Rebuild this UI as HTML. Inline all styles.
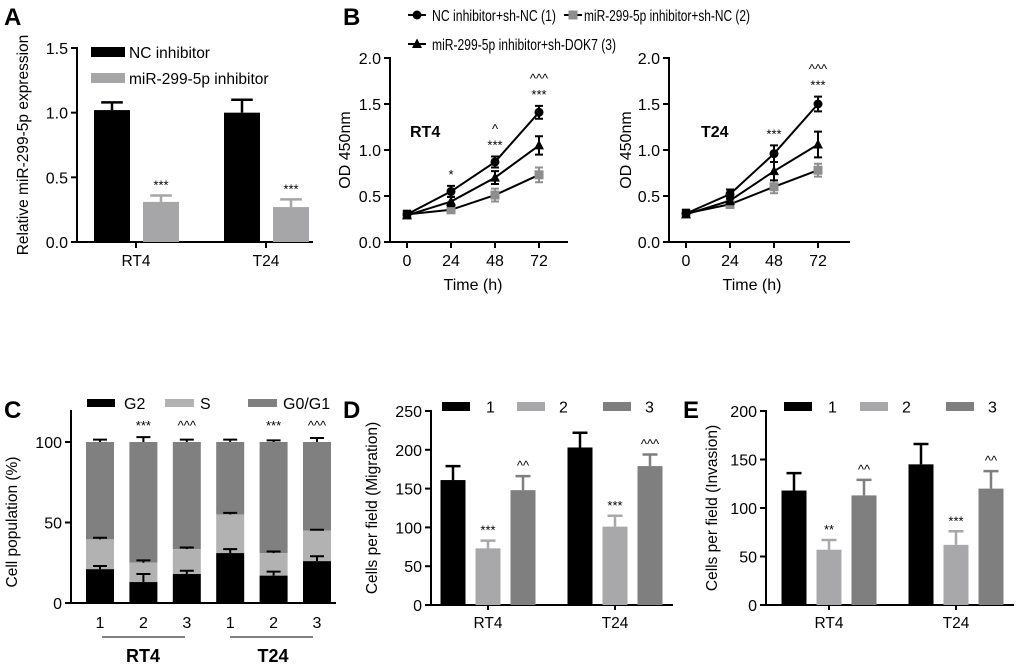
<!DOCTYPE html>
<html><head><meta charset="utf-8"><style>
html,body{margin:0;padding:0;background:#fff;}
svg{display:block;font-family:"Liberation Sans",Arial,sans-serif;}
</style></head><body>
<svg id="fig" width="1020" height="668" viewBox="0 0 1020 668"></svg>
<script>
// ---------- DATA ----------
const aCats = ["RT4","T24"];
const aNC = [1.02, 1.00];
const aNCerr = [0.06, 0.10];
const aInh = [0.31, 0.27];
const aInhErr = [0.05, 0.06];
const aSig = ["***","***"];

const bTimes = [0,24,48,72];
const bRT4s1 = [0.30,0.55,0.87,1.41];
const bRT4e1 = [0.04,0.06,0.06,0.07];
const bRT4s2 = [0.30,0.35,0.51,0.73];
const bRT4e2 = [0.04,0.03,0.07,0.08];
const bRT4s3 = [0.29,0.44,0.70,1.05];
const bRT4e3 = [0.03,0.05,0.07,0.10];
const bRT4star = ["","*","***","***"];
const bRT4caret = ["","","^","^^^"];
const bT24s1 = [0.31,0.52,0.96,1.50];
const bT24e1 = [0.04,0.05,0.09,0.08];
const bT24s2 = [0.31,0.41,0.60,0.78];
const bT24e2 = [0.04,0.04,0.07,0.07];
const bT24s3 = [0.30,0.45,0.77,1.06];
const bT24e3 = [0.03,0.04,0.10,0.14];
const bT24star = ["","","***","***"];
const bT24caret = ["","","","^^^"];

const cCats = ["1","2","3","1","2","3"];
const cG2 = [21,13,18,31,17,26];
const cG2err = [2,5,2,2.5,2.5,3];
const cS = [39.5,25,33.5,55,31,45];
const cSerr = [1,1.5,1,1,1,0.5];
const cTotal = [100,100,100,100,100,100];
const cTotErr = [1.5,3,1.5,1.5,1,2.5];
const cSig = ["","***","^^^","","***","^^^"];

const dCats = ["RT4","T24"];
const d1 = [161,203]; const d1e = [18,19];
const d2 = [73,101];  const d2e = [10,14];
const d3 = [148,179]; const d3e = [18,15];
const d2sig = ["***","***"]; const d3sig = ["^^","^^^"];

const eCats = ["RT4","T24"];
const e1 = [118,145]; const e1e = [18,21];
const e2 = [57,62];   const e2e = [10,14];
const e3 = [113,120]; const e3e = [16,18];
const e2sig = ["**","***"]; const e3sig = ["^^","^^"];

// ---------- HELPERS ----------
const NS = "http://www.w3.org/2000/svg";
const svg = document.getElementById('fig');
function mk(tag, attrs, parent){
  const e = document.createElementNS(NS, tag);
  for (const k in attrs) e.setAttribute(k, attrs[k]);
  (parent || svg).appendChild(e);
  return e;
}
function tx(x, y, s, size, anchor, parent, weight){
  const t = mk('text', {x:x, y:y, 'font-size':size, 'text-anchor':anchor||'middle', fill:'#000', 'font-weight':weight||'normal'}, parent);
  t.textContent = s;
  return t;
}
function lin(y0, y1, vmax){ return v => y0 - v / vmax * (y0 - y1); }
function group(name){
  const g = mk('g', {});
  
  
  return g;
}
function yAxis(g, x, ys, ticks, labels, top, fs){
  const l = mk('line', {x1:x, y1:ys(0)+1, x2:x, y2:top, stroke:'#000', 'stroke-width':2}, g);
  
  
  ticks.forEach((v,i) => {
    const tk = mk('line', {x1:x-6, y1:ys(v), x2:x, y2:ys(v), stroke:'#000', 'stroke-width':2}, g);
    
    
    const t = tx(x-9, ys(v)+6, labels[i], fs, 'end', g);
    
    
  });
}
function xAxis(g, x0, x1, y){
  const l = mk('line', {x1:x0-1, y1:y, x2:x1, y2:y, stroke:'#000', 'stroke-width':2}, g);
  
  
}
function yTitle(g, x, y, s, fs){
  const t = tx(0, 0, s, fs, 'middle', g);
  t.setAttribute('transform', 'translate(' + x + ',' + y + ') rotate(-90)');
  
  
}
function panelLabel(x, y, s){
  const t = tx(x, y, s, 24, 'start', svg, 'bold');
  
  
}
function bar(g, x, w, ys, v, err, fill, name){
  const r = mk('rect', {x:x, y:ys(v), width:w, height:ys(0)-ys(v), fill:fill}, g);
  
  
  const cx = x + w/2, top = ys(v+err);
  const e = mk('path', {d:'M'+cx+' '+ys(v)+'V'+top+'M'+(cx-w*0.3)+' '+top+'H'+(cx+w*0.3), stroke:fill==='#000'?'#000':fill, 'stroke-width':2.5, fill:'none'}, g);
  
  
  return top;
}
function sig(g, x, y, s, name){
  if (!s) return;
  const t = tx(x, y, s, 13, 'middle', g);
  
  
}
function legRect(g, x, y, w, h, fill, label, lx, fs, name){
  const r = mk('rect', {x:x, y:y, width:w, height:h, fill:fill}, g);
  
  
  const t = tx(lx, y+h/2+6, label, fs, 'start', g);
  
  
}

// ---------- PANEL A ----------
panelLabel(4, 25, 'A');
(function(){
  const g = group('panel-a-chart');
  const ys = lin(242, 48, 1.5);
  yAxis(g, 77, ys, [0,0.5,1,1.5], ['0.0','0.5','1.0','1.5'], 47, 16);
  xAxis(g, 77, 313, 242);
  yTitle(g, 28, 145, 'Relative miR-299-5p expression', 15.5);
  const centers = [136, 266];
  aCats.forEach((c,i) => {
    const cx = centers[i];
    bar(g, cx-42, 36, ys, aNC[i], aNCerr[i], '#000', 'bar-nc-' + c.toLowerCase());
    const top = bar(g, cx+7, 36, ys, aInh[i], aInhErr[i], '#a6a6a8', 'bar-inhibitor-' + c.toLowerCase());
    sig(g, cx+25, top-6, aSig[i], 'significance-' + c.toLowerCase());
    const tk = mk('line', {x1:cx, y1:242, x2:cx, y2:248, stroke:'#000', 'stroke-width':2}, g);
    
    
    const t = tx(cx, 266, c, 15.5, 'middle', g);
    
    
  });
  legRect(g, 91, 47, 34, 10, '#000', 'NC inhibitor', 129, 15.5, 'legend-nc-inhibitor');
  legRect(g, 91, 73, 34, 10, '#a6a6a8', 'miR-299-5p inhibitor', 129, 15.5, 'legend-mir-inhibitor');
})();

// ---------- PANEL B ----------
panelLabel(343, 25, 'B');
function marker(g, type, x, y, color, name){
  let m;
  if (type === 'circle') m = mk('circle', {cx:x, cy:y, r:4.5, fill:color}, g);
  else if (type === 'square') m = mk('rect', {x:x-4.5, y:y-4.5, width:9, height:9, fill:color}, g);
  else m = mk('path', {d:'M'+x+' '+(y-5.5)+'L'+(x+5)+' '+(y+4)+'L'+(x-5)+' '+(y+4)+'Z', fill:color}, g);
  
  
}
function linePanel(name, ax, axEnd, label, lx, titleX, s1, e1_, s2, e2_, s3, e3_, stars, carets){
  const g = group(name);
  const ys = lin(242, 58, 2.0);
  const xs = v => ax + 17 + v / 72 * 132;
  yAxis(g, ax, ys, [0,0.5,1,1.5,2], ['0.0','0.5','1.0','1.5','2.0'], 57, 16);
  xAxis(g, ax, axEnd, 242);
  yTitle(g, titleX, 150, 'OD 450nm', 16);
  bTimes.forEach(t => {
    const tk = mk('line', {x1:xs(t), y1:242, x2:xs(t), y2:248, stroke:'#000', 'stroke-width':2}, g);
    
    
    const tl = tx(xs(t), 266, String(t), 16, 'middle', g);
    
    
  });
  const tt = tx(xs(36), 290, 'Time (h)', 16, 'middle', g);
  
  
  const cl = tx(lx, 137, label, 16, 'start', g, 'bold');
  
  
  const series = [[s2,e2_,'#8e8e8e','square','series-2'],[s3,e3_,'#000','triangle','series-3'],[s1,e1_,'#000','circle','series-1']];
  series.forEach(([s,e,col,mt,nm]) => {
    const p = mk('polyline', {points:bTimes.map((t,i)=>xs(t)+','+ys(s[i])).join(' '), fill:'none', stroke:'#000', 'stroke-width':2}, g);
    
    
    bTimes.forEach((t,i) => {
      const x = xs(t), hi = ys(s[i]+e[i]), lo = ys(s[i]-e[i]);
      const eb = mk('path', {d:'M'+x+' '+hi+'V'+lo+'M'+(x-4)+' '+hi+'H'+(x+4)+'M'+(x-4)+' '+lo+'H'+(x+4), stroke:col, 'stroke-width':2, fill:'none'}, g);
      
      
      marker(g, mt, x, ys(s[i]), col, nm + '-point');
    });
  });
  bTimes.forEach((t,i) => {
    const top = ys(Math.max(s1[i]+e1_[i], s3[i]+e3_[i]));
    sig(g, xs(t), top-7, stars[i], 'significance-star');
    sig(g, xs(t), top-23, carets[i], 'significance-caret');
  });
}
linePanel('panel-b-rt4-chart', 390, 568, 'RT4', 410, 350, bRT4s1, bRT4e1, bRT4s2, bRT4e2, bRT4s3, bRT4e3, bRT4star, bRT4caret);
linePanel('panel-b-t24-chart', 669, 850, 'T24', 701, 631, bT24s1, bT24e1, bT24s2, bT24e2, bT24s3, bT24e3, bT24star, bT24caret);
(function(){
  const g = group('panel-b-legend');
  function item(mx, my, type, col, label, lx, w, name){
    const l = mk('line', {x1:mx-9, y1:my, x2:mx+9, y2:my, stroke:'#000', 'stroke-width':2}, g);
    
    
    marker(g, type, mx, my, col, name + '-marker');
    const t = tx(lx, my+6, label, 15.5, 'start', g);
    t.setAttribute('textLength', w);
    t.setAttribute('lengthAdjust', 'spacingAndGlyphs');
    
    
  }
  item(417, 15, 'circle', '#000', 'NC inhibitor+sh-NC (1)', 432, 124, 'legend-series-1');
  item(573, 15, 'square', '#8e8e8e', 'miR-299-5p inhibitor+sh-NC (2)', 584, 166, 'legend-series-2');
  item(417, 44, 'triangle', '#000', 'miR-299-5p inhibitor+sh-DOK7 (3)', 432, 184, 'legend-series-3');
})();

// ---------- PANEL C ----------
panelLabel(4, 418, 'C');
(function(){
  const g = group('panel-c-chart');
  const ys = lin(603, 442, 100);
  yAxis(g, 71, ys, [0,50,100], ['0','50','100'], 410, 16);
  xAxis(g, 71, 336, 603);
  yTitle(g, 17, 522, 'Cell population (%)', 15.5);
  const xs = i => 100 + i * 43.4;
  const w = 28;
  cCats.forEach((c,i) => {
    const x = xs(i) - w/2;
    [[cTotal,cTotErr,cS,'#808080','bar-g0g1'],[cS,cSerr,cG2,'#b2b2b2','bar-s'],[cG2,cG2err,null,'#000','bar-g2']].forEach(([top,err,bot,col,nm]) => {
      const b = bot ? bot[i] : 0;
      const r = mk('rect', {x:x, y:ys(top[i]), width:w, height:ys(b)-ys(top[i]), fill:col}, g);
      
      
      const cx = xs(i), yt = ys(top[i]+err[i]);
      const e = mk('path', {d:'M'+cx+' '+ys(top[i])+'V'+yt+'M'+(cx-7)+' '+yt+'H'+(cx+7), stroke:'#000', 'stroke-width':2, fill:'none'}, g);
      
      
    });
    sig(g, xs(i), 430, cSig[i], 'significance-' + (i+1));
    const t = tx(xs(i), 628, c, 16, 'middle', g);
    
    
  });
  [[102,185,143,'RT4'],[230,313,273,'T24']].forEach(([a,b,m,s]) => {
    const l = mk('line', {x1:a, y1:637, x2:b, y2:637, stroke:'#000', 'stroke-width':1}, g);
    
    
    const t = tx(m, 662, s, 18, 'middle', g, 'bold');
    
    
  });
  legRect(g, 87, 399, 28, 8, '#000', 'G2', 124, 16, 'legend-g2');
  legRect(g, 165, 399, 29, 8, '#b2b2b2', 'S', 200, 16, 'legend-s');
  legRect(g, 248, 399, 29, 8, '#808080', 'G0/G1', 283, 16, 'legend-g0g1');
})();

// ---------- PANELS D & E ----------
function triPanel(name, ax, axEnd, vmax, top, ticks, title, titleX, centers, s1, s1e, s2, s2e, s3, s3e, sig2, sig3, cats, leg){
  const g = group(name);
  const ys = lin(605, top, vmax);
  yAxis(g, ax, ys, ticks, ticks.map(String), top - 1, 16);
  xAxis(g, ax, axEnd, 605);
  yTitle(g, titleX, 508, title, 15.5);
  const w = 25;
  cats.forEach((c,i) => {
    const cx = centers[i];
    bar(g, cx-w/2-35, w, ys, s1[i], s1e[i], '#000', 'bar-1-' + c.toLowerCase());
    const t2 = bar(g, cx-w/2, w, ys, s2[i], s2e[i], '#a8a8aa', 'bar-2-' + c.toLowerCase());
    const t3 = bar(g, cx-w/2+35, w, ys, s3[i], s3e[i], '#7f7f7f', 'bar-3-' + c.toLowerCase());
    sig(g, cx, t2-6, sig2[i], 'significance-2-' + c.toLowerCase());
    sig(g, cx+35, t3-6, sig3[i], 'significance-3-' + c.toLowerCase());
    const tk = mk('line', {x1:cx, y1:605, x2:cx, y2:610, stroke:'#000', 'stroke-width':2}, g);
    
    
    const t = tx(cx, 628, c, 15.5, 'middle', g);
    
    
  });
  legRect(g, leg[0], 402, 28, 9, '#000', '1', leg[0]+44, 16, 'legend-1');
  legRect(g, leg[1], 402, 28, 9, '#a8a8aa', '2', leg[1]+42, 16, 'legend-2');
  legRect(g, leg[2], 402, 28, 9, '#7f7f7f', '3', leg[2]+42, 16, 'legend-3');
}
panelLabel(343, 418, 'D');
triPanel('panel-d-chart', 431, 673, 250, 411, [0,50,100,150,200,250], 'Cells per field (Migration)', 377, [488,615], d1, d1e, d2, d2e, d3, d3e, d2sig, d3sig, dCats, [442,517,603]);
panelLabel(683, 418, 'E');
triPanel('panel-e-chart', 766, 1014, 200, 411, [0,50,100,150,200], 'Cells per field (Invasion)', 717, [829,956], e1, e1e, e2, e2e, e3, e3e, e2sig, e3sig, eCats, [784,860,946]);
</script>
</body></html>
